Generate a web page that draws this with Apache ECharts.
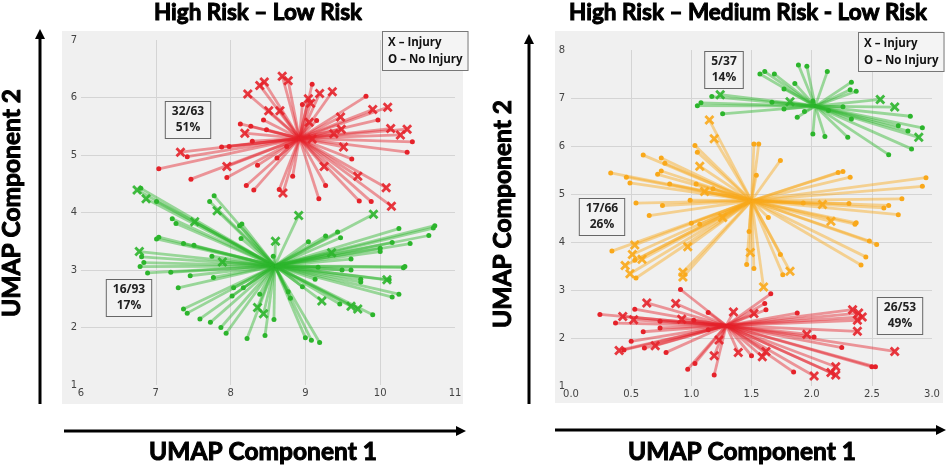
<!DOCTYPE html>
<html>
<head>
<meta charset="utf-8">
<script src="https://cdn.jsdelivr.net/npm/echarts@6/dist/echarts.min.js"></script>
<style>
  html, body { margin: 0; padding: 0; background: #fff; }
  #chart { width: 948px; height: 467px; }
</style>
</head>
<body>
<div id="chart"></div>
<script>
// ---- left panel: High Risk (red) / Low Risk (green)
const leftXTicks = [6, 7, 8, 9, 10, 11];
const leftYTicks = [1, 2, 3, 4, 5, 6, 7];

const lRedCenter = [8.92, 5.29];
const lRedInjury = [
  [7.33, 5.05], [7.95, 4.80], [8.19, 5.38], [8.23, 6.06], [8.39, 6.21], [8.45, 6.27],
  [8.51, 5.77], [8.66, 5.77], [8.69, 6.37], [8.77, 6.29], [8.70, 4.34], [9.04, 5.98],
  [9.07, 5.90], [9.05, 5.57], [9.19, 6.07], [9.36, 6.10], [9.47, 5.66], [9.48, 5.45],
  [9.38, 5.37], [9.51, 5.14], [9.25, 4.80], [9.70, 4.63], [9.90, 5.79], [10.10, 5.83],
  [10.14, 5.46], [10.36, 5.45], [10.27, 5.35], [10.08, 4.43], [10.15, 4.11], [9.09, 5.28]
];
const lRedNoInjury = [
  [7.04, 4.76], [7.42, 4.97], [7.47, 4.58], [7.88, 5.14], [7.98, 5.15], [7.95, 4.61],
  [8.13, 5.54], [8.27, 5.50], [8.29, 5.24], [8.36, 4.82], [8.21, 4.47], [8.31, 4.39],
  [8.44, 5.61], [8.62, 4.95], [8.65, 4.40], [8.96, 5.88], [9.09, 6.23], [9.15, 5.60],
  [9.27, 4.47], [9.18, 4.24], [9.62, 4.93], [9.72, 4.20], [9.88, 4.19], [9.81, 6.02],
  [9.97, 5.61], [10.43, 5.23], [10.36, 5.05], [8.48, 5.44], [8.75, 5.15], [8.83, 4.63]
];

const lGreenCenter = [8.59, 3.07];
const lGreenInjury = [
  [6.75, 4.39], [6.87, 4.24], [7.52, 3.84], [7.82, 4.03], [8.60, 3.50], [8.91, 3.95],
  [9.91, 3.97], [9.35, 3.30], [6.78, 3.32], [7.89, 3.14], [8.36, 2.35], [8.44, 2.24],
  [9.22, 2.46], [9.61, 2.37], [9.70, 2.32], [10.09, 2.83]
];
const lGreenNoInjury = [
  [6.80, 4.42], [7.01, 4.19], [7.22, 3.89], [7.27, 3.81], [7.78, 4.29], [7.72, 4.19],
  [8.12, 3.77], [8.15, 3.80], [8.14, 3.55], [7.01, 3.54], [7.04, 3.57], [7.37, 3.46],
  [7.51, 3.43], [6.81, 3.23], [6.84, 3.13], [6.79, 3.06], [6.89, 2.95], [7.20, 2.96],
  [7.46, 2.90], [7.75, 3.24], [7.77, 2.87], [7.30, 2.69], [7.37, 2.32], [7.42, 2.25],
  [7.59, 2.15], [7.73, 2.09], [7.87, 2.00], [7.94, 1.90], [8.04, 2.69], [8.17, 2.69],
  [8.02, 2.55], [8.22, 1.81], [8.39, 2.58], [8.46, 1.86], [8.58, 2.14], [8.57, 3.24],
  [8.77, 2.62], [8.80, 2.51], [8.96, 2.71], [9.00, 1.82], [9.08, 1.78], [9.19, 1.74],
  [9.13, 2.84], [9.04, 3.49], [9.27, 3.59], [9.43, 3.66], [9.47, 3.56], [9.61, 3.19],
  [9.49, 3.00], [9.61, 3.00], [9.17, 3.05], [9.46, 2.41], [9.74, 2.84], [9.74, 2.79],
  [9.90, 2.22], [10.00, 3.38], [10.00, 3.32], [10.16, 3.48], [10.25, 3.72], [10.40, 3.46],
  [10.65, 3.60], [10.71, 3.73], [10.73, 3.77], [10.31, 3.04], [10.33, 3.06], [10.25, 2.58],
  [10.16, 2.53], [10.12, 2.83]
];

// ---- right panel: Low (green) / Medium (orange) / High (red)
const rightXTicks = [0, 0.5, 1, 1.5, 2, 2.5, 3];
const rightYTicks = [1, 2, 3, 4, 5, 6, 7, 8];

const rGreenCenter = [2.03, 6.83];
const rGreenInjury = [[1.24, 7.07], [1.82, 6.92], [2.57, 6.97], [2.69, 6.81], [2.89, 6.18]];
const rGreenNoInjury = [
  [1.17, 7.03], [1.05, 6.84], [1.08, 6.90], [1.26, 6.67], [1.57, 7.50], [1.61, 7.55],
  [1.69, 7.50], [1.77, 7.19], [1.86, 7.30], [1.89, 7.69], [1.96, 7.66], [1.67, 6.91],
  [1.77, 6.77], [1.88, 6.60], [1.94, 6.72], [2.01, 6.94], [2.01, 6.25], [2.11, 6.20],
  [2.13, 7.55], [2.14, 6.74], [2.26, 6.82], [2.33, 7.33], [2.32, 7.17], [2.37, 7.14],
  [2.33, 6.56], [2.30, 6.18], [2.64, 5.82], [2.82, 6.62], [2.72, 6.42], [2.80, 6.31],
  [2.92, 6.38], [2.83, 5.94]
];

const rOrangeCenter = [1.50, 4.86];
const rOrangeInjury = [
  [1.15, 6.54], [1.19, 6.15], [1.07, 5.58], [1.11, 5.05], [2.09, 4.78], [2.16, 4.43],
  [0.53, 3.94], [0.51, 3.74], [0.59, 3.64], [0.45, 3.51], [0.49, 3.34], [0.97, 3.90],
  [0.93, 3.37], [0.93, 3.27], [1.26, 4.51], [1.49, 3.78], [1.60, 3.06], [1.82, 3.39]
];
const rOrangeNoInjury = [
  [0.33, 5.44], [0.46, 5.35], [0.49, 5.23], [0.60, 5.81], [0.75, 5.75], [0.78, 5.64],
  [0.72, 5.41], [0.75, 5.48], [0.82, 5.21], [1.03, 6.01], [1.05, 5.87], [1.04, 5.21],
  [1.18, 5.11], [1.52, 6.04], [1.56, 6.04], [1.54, 5.39], [1.74, 5.70], [2.22, 5.45],
  [2.26, 5.47], [2.32, 5.35], [2.95, 5.34], [2.92, 5.16], [2.75, 4.90], [0.54, 4.81],
  [0.76, 4.76], [0.65, 4.55], [0.99, 4.87], [1.93, 4.81], [2.31, 4.80], [2.64, 4.76],
  [2.60, 4.71], [2.72, 4.57], [2.37, 4.40], [0.34, 3.81], [0.53, 3.62], [0.54, 3.25],
  [1.00, 4.39], [1.07, 4.37], [1.48, 4.22], [1.46, 3.53], [1.52, 3.45], [1.64, 4.51],
  [1.74, 3.74], [1.76, 3.32], [2.36, 4.37], [2.48, 4.02], [2.54, 3.95], [2.45, 3.69],
  [2.41, 3.52]
];

const rRedCenter = [1.29, 2.26];
const rRedInjury = [
  [0.63, 2.73], [0.87, 2.72], [0.43, 2.45], [0.52, 2.38], [0.92, 2.39], [0.40, 1.74],
  [0.70, 1.84], [1.35, 2.54], [1.52, 2.51], [1.23, 1.96], [1.19, 1.63], [1.39, 1.70],
  [1.59, 1.61], [1.62, 1.72], [1.96, 2.08], [2.02, 1.21], [2.16, 1.28], [2.20, 1.40],
  [2.20, 1.23], [2.34, 2.59], [2.39, 2.52], [2.42, 2.44], [2.38, 2.37], [2.38, 2.14],
  [2.69, 1.72]
];
const rRedNoInjury = [
  [0.24, 2.49], [0.37, 2.31], [0.53, 2.60], [0.50, 1.93], [0.60, 2.13], [0.61, 1.79],
  [0.44, 1.75], [0.74, 2.35], [0.74, 2.21], [0.79, 1.70], [0.91, 3.01], [1.02, 2.37],
  [1.14, 2.53], [1.14, 2.17], [1.03, 1.47], [0.97, 1.35], [1.19, 1.23], [1.50, 1.63],
  [1.61, 2.72], [1.62, 2.59], [1.66, 2.92], [1.88, 2.52], [2.02, 2.02], [2.25, 1.80],
  [1.85, 1.29], [2.50, 1.40], [2.53, 1.40]
];

const RED = '#e5222a';
const GREEN = '#2cb52c';
const ORANGE = '#f9a81a';
const X_PATH = 'path://M0,2 L2,0 L5,3 L8,0 L10,2 L7,5 L10,8 L8,10 L5,7 L2,10 L0,8 L3,5 Z';

function cluster(idx, center, injury, noInjury, color) {
  const all = injury.concat(noInjury);
  return [
    {
      type: 'lines', coordinateSystem: 'cartesian2d', xAxisIndex: idx, yAxisIndex: idx,
      data: all.map(p => ({ coords: [center, p] })),
      lineStyle: { color: color, width: 2.8, opacity: 0.45 },
      silent: true, z: 2
    },
    {
      type: 'scatter', xAxisIndex: idx, yAxisIndex: idx, data: noInjury,
      symbol: 'circle', symbolSize: 5, itemStyle: { color: color, opacity: 1 },
      silent: true, z: 3
    },
    {
      type: 'scatter', xAxisIndex: idx, yAxisIndex: idx, data: injury,
      symbol: X_PATH, symbolSize: 10, itemStyle: { color: color, opacity: 0.9 },
      silent: true, z: 4
    }
  ];
}

function xAxis(idx, ticks, fmt) {
  return {
    type: 'value', gridIndex: idx, min: ticks[0], max: ticks[ticks.length - 1],
    interval: ticks[1] - ticks[0],
    axisLine: { show: false }, axisTick: { show: false },
    axisLabel: { color: '#444', fontSize: 10, fontFamily: 'DejaVu Sans', margin: 3, formatter: fmt },
    splitLine: { show: true, showMinLine: false, showMaxLine: false, lineStyle: { color: '#d4d4d4', width: 1 } }
  };
}
function yAxis(idx, ticks, margin) {
  return {
    type: 'value', gridIndex: idx, min: ticks[0], max: ticks[ticks.length - 1],
    interval: ticks[1] - ticks[0],
    axisLine: { show: false }, axisTick: { show: false },
    axisLabel: { color: '#444', fontSize: 10, fontFamily: 'DejaVu Sans', margin: margin },
    splitLine: { show: true, showMinLine: false, showMaxLine: false, lineStyle: { color: '#d4d4d4', width: 1 } }
  };
}

// annotation box, x = centre of the box, y = top of the box
function box(x, y, text) {
  return {
    type: 'text', x: x, y: y, z: 50,
    style: {
      text: text, fill: '#222', font: 'bold 12px "Open Sans"',
      align: 'center', verticalAlign: 'top', lineHeight: 16,
      backgroundColor: '#f2f2f2', borderColor: '#666', borderWidth: 1,
      padding: [2, 6, 2, 6]
    }
  };
}
function legendBox(x, y) {
  return {
    type: 'text', x: x, y: y, z: 50,
    style: {
      text: 'X – Injury\nO – No Injury', fill: '#111', font: 'bold 11.5px "Open Sans"',
      lineHeight: 17, backgroundColor: '#f4f4f4', borderColor: '#777', borderWidth: 1,
      padding: [2, 5, 2, 5]
    }
  };
}
function arrowV(x, y0, y1) {
  return [
    { type: 'line', shape: { x1: x, y1: y0, x2: x, y2: y1 + 8 }, style: { stroke: '#000', lineWidth: 3 } },
    { type: 'polygon', shape: { points: [[x - 5, y1 + 10], [x + 5, y1 + 10], [x, y1]] }, style: { fill: '#000' } }
  ];
}
function arrowH(y, x0, x1) {
  return [
    { type: 'line', shape: { x1: x0, y1: y, x2: x1 - 8, y2: y }, style: { stroke: '#000', lineWidth: 3 } },
    { type: 'polygon', shape: { points: [[x1 - 10, y - 5], [x1 - 10, y + 5], [x1, y]] }, style: { fill: '#000' } }
  ];
}
// heavy black headings (stroke thickens the bold face)
function heading(x, y, text, size, rot) {
  return {
    type: 'text', x: x, y: y, rotation: rot || 0,
    style: {
      text: text, font: 'bold ' + size + 'px Lato', fill: '#000',
      stroke: '#000', lineWidth: 1, align: 'center', verticalAlign: 'middle'
    }
  };
}

const chart = echarts.init(document.getElementById('chart'), null, { renderer: 'canvas' });
chart.setOption({
  animation: false,
  backgroundColor: '#ffffff',
  grid: [
    { left: 81, top: 40, width: 374, height: 345 },
    { left: 571, top: 50, width: 361, height: 336 }
  ],
  xAxis: [
    xAxis(0, leftXTicks),
    xAxis(1, rightXTicks, v => v.toFixed(1))
  ],
  yAxis: [
    yAxis(0, leftYTicks, 4),
    yAxis(1, rightYTicks, 6)
  ],
  series: [].concat(
    cluster(0, lRedCenter, lRedInjury, lRedNoInjury, RED),
    cluster(0, lGreenCenter, lGreenInjury, lGreenNoInjury, GREEN),
    cluster(1, rGreenCenter, rGreenInjury, rGreenNoInjury, GREEN),
    cluster(1, rOrangeCenter, rOrangeInjury, rOrangeNoInjury, ORANGE),
    cluster(1, rRedCenter, rRedInjury, rRedNoInjury, RED)
  ),
  graphic: [].concat(
    [
      { type: 'rect', shape: { x: 62, y: 31, width: 401, height: 373 }, style: { fill: '#f0f0f0' }, z: -100 },
      { type: 'rect', shape: { x: 555, y: 31, width: 388, height: 372 }, style: { fill: '#f0f0f0' }, z: -100 },
      heading(258, 13, 'High Risk – Low Risk', 22.5),
      heading(748, 13, 'High Risk – Medium Risk - Low Risk', 22.5),
      heading(263, 452, 'UMAP Component 1', 24.5),
      heading(742, 452, 'UMAP Component 1', 24.5),
      heading(12, 203, 'UMAP Component 2', 24.5, Math.PI / 2),
      heading(503, 214, 'UMAP Component 2', 24.5, Math.PI / 2),
      box(188, 102, '32/63\n51%'),
      box(129, 280, '16/93\n17%'),
      box(724, 52, '5/37\n14%'),
      box(602, 199, '17/66\n26%'),
      box(900, 298, '26/53\n49%'),
      legendBox(383, 32),
      legendBox(859, 33)
    ],
    arrowV(40, 404, 29),
    arrowH(431, 64, 466),
    arrowV(529, 404, 34),
    arrowH(430, 555, 946)
  )
});
</script>
</body>
</html>
